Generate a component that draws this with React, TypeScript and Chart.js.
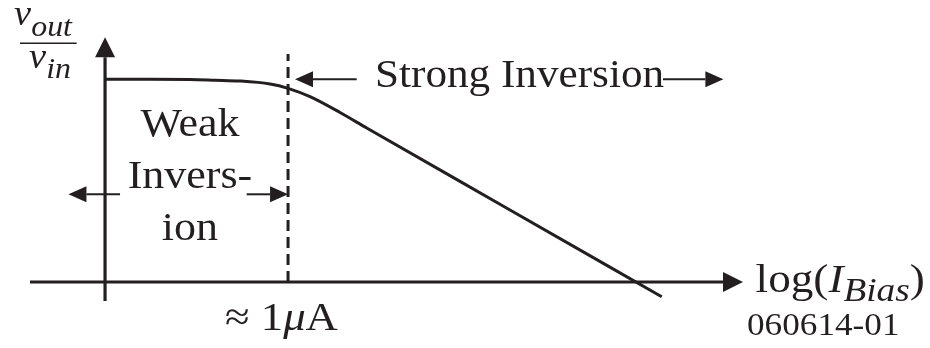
import { useEffect, useRef } from "react";
import { Chart, registerables } from "chart.js";

Chart.register(...registerables);

// Gain curve: log10(I_Bias / A) against small-signal gain in dB
const logBias = [-7, -6.754, -6.536, -6.399, -6.262, -6.098, -6.0, -5.88, -5.716, -5.57, -4.842, -3.958];
const gainDb = [40.0, 40.0, 39.96, 39.82, 39.66, 39.07, 38.22, 36.57, 33.45, 30.39, 15.35, -2.9];

// Axis extents (data units)
const xRange = [-7.574, -2.492];
const yRange = [-13.02, 55.65];
const xAxisSpan = [-7.41, -3.514];
const yAxisSpan = [-3.75, 48.29];
const transitionLog = -6.0;
const dashedTopDb = 45.0;

// Region labels
const weakLines = ["Weak", "Invers-", "ion"];
const weakLineDb = [28.81, 18.55, 8.29];
const weakCenterLog = -6.536;
const strongLabel = "Strong Inversion";
const currentLabel = "1";
const figureId = "060614-01";

const INK = "#231f20";
const SERIF = "'Liberation Serif', 'Times New Roman', serif";
const STRETCH = 1.1;

type Seg = { t: string; size: number; italic?: boolean; dy?: number };

function drawRich(
  ctx: CanvasRenderingContext2D,
  x: number,
  y: number,
  segs: Seg[],
  align: "left" | "center" = "left",
  sx = STRETCH
) {
  const fontOf = (s: Seg) => `${s.italic ? "italic " : ""}${s.size}px ${SERIF}`;
  const widths = segs.map((s) => {
    ctx.font = fontOf(s);
    return ctx.measureText(s.t).width;
  });
  const total = widths.reduce((a, b) => a + b, 0) * sx;
  const start = align === "center" ? x - total / 2 : x;
  ctx.save();
  ctx.textAlign = "left";
  ctx.translate(start, y);
  ctx.scale(sx, 1);
  let cx = 0;
  segs.forEach((s, i) => {
    ctx.font = fontOf(s);
    ctx.fillText(s.t, cx, s.dy || 0);
    cx += widths[i];
  });
  ctx.restore();
}

function arrow(ctx: CanvasRenderingContext2D, x1: number, y1: number, x2: number, y2: number, len: number, half: number, lw: number) {
  const ang = Math.atan2(y2 - y1, x2 - x1);
  const bx = x2 - Math.cos(ang) * len;
  const by = y2 - Math.sin(ang) * len;
  ctx.lineWidth = lw;
  ctx.beginPath();
  ctx.moveTo(x1, y1);
  ctx.lineTo(bx, by);
  ctx.stroke();
  ctx.beginPath();
  ctx.moveTo(x2, y2);
  ctx.lineTo(bx - Math.sin(ang) * half, by + Math.cos(ang) * half);
  ctx.lineTo(bx + Math.sin(ang) * half, by - Math.cos(ang) * half);
  ctx.closePath();
  ctx.fill();
}

const diagramPlugin = {
  id: "diagram",
  beforeDatasetsDraw(chart: any) {
    const { ctx } = chart;
    const xs = chart.scales.x;
    const ys = chart.scales.y;
    ctx.save();
    ctx.strokeStyle = INK;
    ctx.fillStyle = INK;
    ctx.lineCap = "butt";
    // axes
    arrow(ctx, xs.getPixelForValue(xAxisSpan[0]), ys.getPixelForValue(0), xs.getPixelForValue(xAxisSpan[1]), ys.getPixelForValue(0), 20, 10, 3.2);
    arrow(ctx, xs.getPixelForValue(-7), ys.getPixelForValue(yAxisSpan[0]), xs.getPixelForValue(-7), ys.getPixelForValue(yAxisSpan[1]), 20, 10, 3.2);
    // weak / strong inversion boundary
    ctx.setLineDash([11, 6]);
    ctx.lineWidth = 3;
    ctx.beginPath();
    ctx.moveTo(xs.getPixelForValue(transitionLog), ys.getPixelForValue(0));
    ctx.lineTo(xs.getPixelForValue(transitionLog), ys.getPixelForValue(dashedTopDb));
    ctx.stroke();
    ctx.restore();
  },
  afterDatasetsDraw(chart: any) {
    const { ctx } = chart;
    const xs = chart.scales.x;
    const ys = chart.scales.y;
    const X = (v: number) => xs.getPixelForValue(v);
    const Y = (v: number) => ys.getPixelForValue(v);
    ctx.save();
    ctx.strokeStyle = INK;
    ctx.fillStyle = INK;
    ctx.textBaseline = "alphabetic";

    // y-axis title: v_out / v_in
    drawRich(ctx, X(-7.497), Y(50.71), [
      { t: "v", size: 35, italic: true },
      { t: "out", size: 29, italic: true, dy: 11 },
    ]);
    ctx.lineWidth = 1.5;
    ctx.beginPath();
    ctx.moveTo(X(-7.465), Y(47.1));
    ctx.lineTo(X(-7.155), Y(47.1));
    ctx.stroke();
    drawRich(ctx, X(-7.415), Y(42.2), [
      { t: "v", size: 35, italic: true },
      { t: "in", size: 29, italic: true, dy: 10 },
    ]);

    // weak inversion label and arrows
    weakLines.forEach((s, i) => drawRich(ctx, X(weakCenterLog), Y(weakLineDb[i]), [{ t: s, size: 40 }], "center"));
    arrow(ctx, X(-6.918), Y(17.31), X(-7.2), Y(17.31), 18, 8, 2);
    arrow(ctx, X(-6.226), Y(17.31), X(-6.0), Y(17.31), 18, 8, 2);

    // strong inversion label and arrows
    drawRich(ctx, X(-5.525), Y(38.54), [{ t: strongLabel, size: 40 }], "left", 1.08);
    arrow(ctx, X(-5.625), Y(40.0), X(-5.962), Y(40.0), 18, 8, 2);
    arrow(ctx, X(-3.951), Y(40.0), X(-3.621), Y(40.0), 18, 8, 2);

    // transition current
    drawRich(ctx, X(-6.036), Y(-9.5), [
      { t: "\u2248 ", size: 40 },
      { t: currentLabel, size: 40 },
      { t: "\u03bc", size: 40, italic: true },
      { t: "A", size: 40 },
    ], "center", 1.12);

    // x-axis title
    drawRich(ctx, X(-3.445), Y(-1.91), [
      { t: "log(", size: 40 },
      { t: "I", size: 40, italic: true },
      { t: "Bias", size: 33, italic: true, dy: 9 },
      { t: ")", size: 40 },
    ], "left", 1.13);

    // figure number
    drawRich(ctx, X(-3.492), Y(-10.45), [{ t: figureId, size: 32 }], "left", 1.1);
    ctx.restore();
  },
};

export default function App() {
  const ref = useRef<HTMLCanvasElement>(null);
  useEffect(() => {
    document.body.style.margin = "0";
    const chart = new Chart(ref.current!, {
      type: "line",
      data: {
        datasets: [
          {
            data: logBias.map((x, i) => ({ x, y: gainDb[i] })),
            borderColor: INK,
            borderWidth: 3,
            pointRadius: 0,
            fill: false,
            cubicInterpolationMode: "monotone",
          },
        ],
      },
      options: {
        responsive: false,
        animation: false,
        devicePixelRatio: 1,
        layout: { padding: 0 },
        scales: {
          x: { type: "linear", min: xRange[0], max: xRange[1], display: false },
          y: { type: "linear", min: yRange[0], max: yRange[1], display: false },
        },
        plugins: { legend: { display: false }, tooltip: { enabled: false } },
      },
      plugins: [diagramPlugin],
    });
    return () => chart.destroy();
  }, []);
  return (
    <div style={{ width: 930, height: 348, background: "#fff" }}>
      <canvas ref={ref} width={930} height={348} />
    </div>
  );
}
